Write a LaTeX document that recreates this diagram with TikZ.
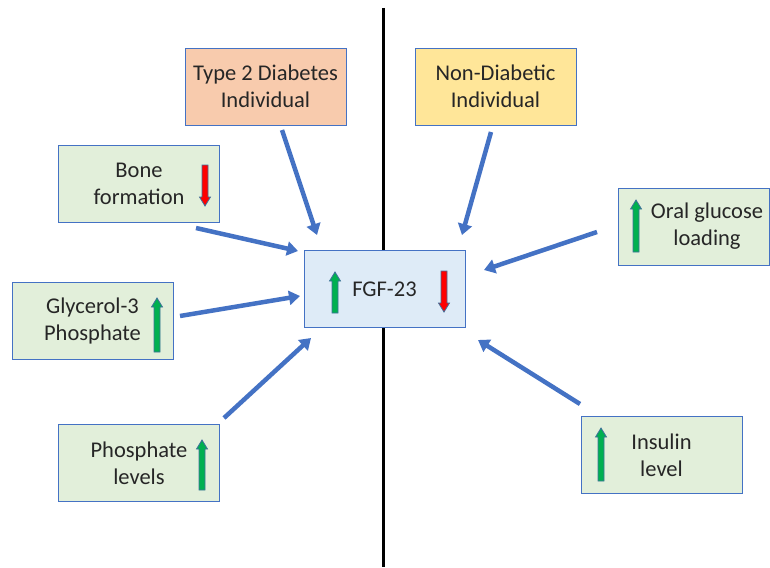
\documentclass[tikz,border=0pt]{standalone}
\usepackage{fontspec}
\setmainfont{Carlito}
\usetikzlibrary{arrows.meta}
\definecolor{boxline}{HTML}{4472C4}
\definecolor{peach}{HTML}{F8CBAD}
\definecolor{paleyellow}{HTML}{FFE699}
\definecolor{palegreen}{HTML}{E2EFDA}
\definecolor{paleblue}{HTML}{DEEBF7}
\definecolor{upgreen}{HTML}{00B050}
\definecolor{downred}{HTML}{FF0000}
\definecolor{arrline}{HTML}{41719C}
\definecolor{linkblue}{HTML}{4472C4}
\tikzset{
    every node/.style={font=\fontsize{22.5}{27}\selectfont, text=black!85},
    factor/.style={rectangle, draw=boxline, line width=0.9pt, minimum width=161pt, minimum height=77pt, align=center, inner sep=0pt},
    link/.style={draw=linkblue, line width=4.5pt, -{Triangle[width=14pt,length=11pt]}},
    levelarr/.style={draw=arrline, line width=0.8pt, line join=miter}
}
% small block arrows: x, tail y, tip y
\newcommand{\uparr}[3]{\draw[levelarr, fill=upgreen] ({#1-3},#2) -- ({#1-3},{#3+9}) -- ({#1-5.5},{#3+9}) -- (#1,#3) -- ({#1+5.5},{#3+9}) -- ({#1+3},{#3+9}) -- ({#1+3},#2) -- cycle;}
\newcommand{\downarr}[3]{\draw[levelarr, fill=downred] ({#1-3},#2) -- ({#1-3},{#3-9}) -- ({#1-5.5},{#3-9}) -- (#1,#3) -- ({#1+5.5},{#3-9}) -- ({#1+3},{#3-9}) -- ({#1+3},#2) -- cycle;}

\begin{document}
\begin{tikzpicture}[x=1pt, y=-1pt]
        \useasboundingbox (0,0) rectangle (770,567);
        % divider
        \coordinate (top) at (383,8);
        \coordinate (bottom) at (383,567);
        \draw[line width=3pt] (top) -- (bottom);

        % boxes
        \node (t2d) [factor, fill=peach] at (265.5,86.5) {Type 2 Diabetes\\Individual};
        \node (nondiab) [factor, fill=paleyellow] at (495.5,86.5) {Non-Diabetic\\Individual};
        \node (fgf) [factor, fill=paleblue] at (384.5,289) {FGF-23};
        \node (bone) [factor, fill=palegreen] at (139,183.5) {Bone\\formation};
        \node (glyc) [factor, fill=palegreen] at (92.5,321) {Glycerol-3\\Phosphate};
        \node (phos) [factor, fill=palegreen] at (139,463) {Phosphate\\levels};
        \node (oral) [factor, fill=palegreen, minimum width=151pt] at (693.5,226.5) {};
        \node (oraltext) [align=center] at (707,226.5) {Oral glucose\\loading};
        \node (insulin) [factor, fill=palegreen] at (661.5,455) {Insulin\\level};

        % level arrows
        \downarr{205}{165}{206}
        \uparr{157}{352}{298}
        \uparr{202}{490}{440}
        \uparr{335}{313}{272}
        \downarr{444}{271}{312}
        \uparr{636}{252}{200}
        \uparr{601}{481}{428}

        % links into FGF-23
        \coordinate (t2dout) at (282,130);
        \coordinate (t2din) at (317,235);
        \coordinate (ndout) at (491,132);
        \coordinate (ndin) at (462,235);
        \coordinate (boneout) at (196,228);
        \coordinate (bonein) at (298,251);
        \coordinate (glycout) at (180,316);
        \coordinate (glycin) at (300,296);
        \coordinate (phosout) at (224,418);
        \coordinate (phosin) at (311,338);
        \coordinate (oralout) at (597,232);
        \coordinate (oralin) at (484,270);
        \coordinate (insout) at (580,404);
        \coordinate (insin) at (478,340);
        \draw[link] (t2dout) -- (t2din);
        \draw[link] (ndout) -- (ndin);
        \draw[link] (boneout) -- (bonein);
        \draw[link] (glycout) -- (glycin);
        \draw[link] (phosout) -- (phosin);
        \draw[link] (oralout) -- (oralin);
        \draw[link] (insout) -- (insin);
\end{tikzpicture}
\end{document}
